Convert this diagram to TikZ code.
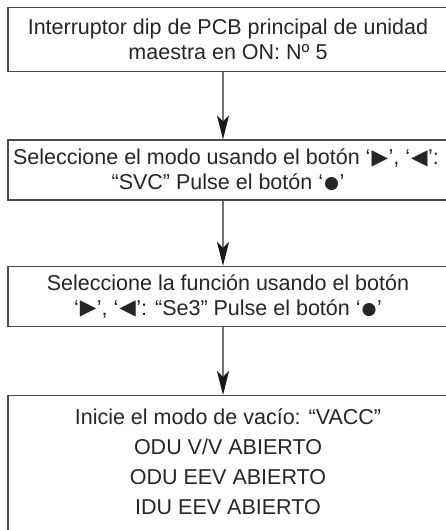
\documentclass[tikz,border=0pt]{standalone}
\usepackage{fontspec}
\setmainfont{Liberation Sans}
\newfontfamily\symf{DejaVu Sans}
\usetikzlibrary{arrows.meta}
\newcommand{\rt}{\kern1pt{\symf\raisebox{0.3pt}{\scalebox{1.0}{▶}}}\kern0.5pt}
\newcommand{\lt}{\kern1pt{\symf\raisebox{0.3pt}{\scalebox{1.0}{◀}}}\kern0.5pt}
\newcommand{\dt}{\kern1pt{\symf\raisebox{0.5pt}{\scalebox{0.8}{●}}}\kern0.5pt}
\begin{document}
\begin{tikzpicture}[x=1pt,y=-1pt,
  box/.style={draw=black!70, line width=1.1pt, rectangle, minimum width=440pt, inner sep=0pt, align=center, text=black!85,
    font=\fontsize{21.5}{24.5}\selectfont},
  arr/.style={draw=black!55, line width=1.1pt, -{Stealth[length=24pt,width=12pt,inset=6pt,color=black!90]}}]
\useasboundingbox (0,0) rectangle (446,530);
\fill[white] (0,0) rectangle (446,530);
\node[box, minimum height=64.5pt] (b1) at (228,39.5) {Interruptor dip de PCB principal de unidad\\maestra en ON: Nº 5};
\node[box, minimum height=60pt] (b2) at (228,170) {\kern-4pt Seleccione el modo usando el botón ‘\rt’, ‘\lt’:\\“SVC” Pulse el botón ‘\dt’};
\node[box, minimum height=60pt] (b3) at (228,296.5) {Seleccione la función usando el botón\\‘\rt’, ‘\lt’: “Se3” Pulse el botón ‘\dt’};
\node[box, anchor=north, inner ysep=13pt, font=\fontsize{21.5}{30}\selectfont] (b4) at (228,395) {Inicie el modo de vacío: “VACC”\\ODU V/V ABIERTO\\ODU EEV ABIERTO\\IDU EEV ABIERTO\\ \phantom{X}\\ \phantom{X}};
\coordinate (ax) at (223,0);
\draw[arr] (b1.south -| ax) -- (b2.north -| ax);
\draw[arr] (b2.south -| ax) -- (b3.north -| ax);
\draw[arr] (b3.south -| ax) -- (b4.north -| ax);
\end{tikzpicture}
\end{document}
